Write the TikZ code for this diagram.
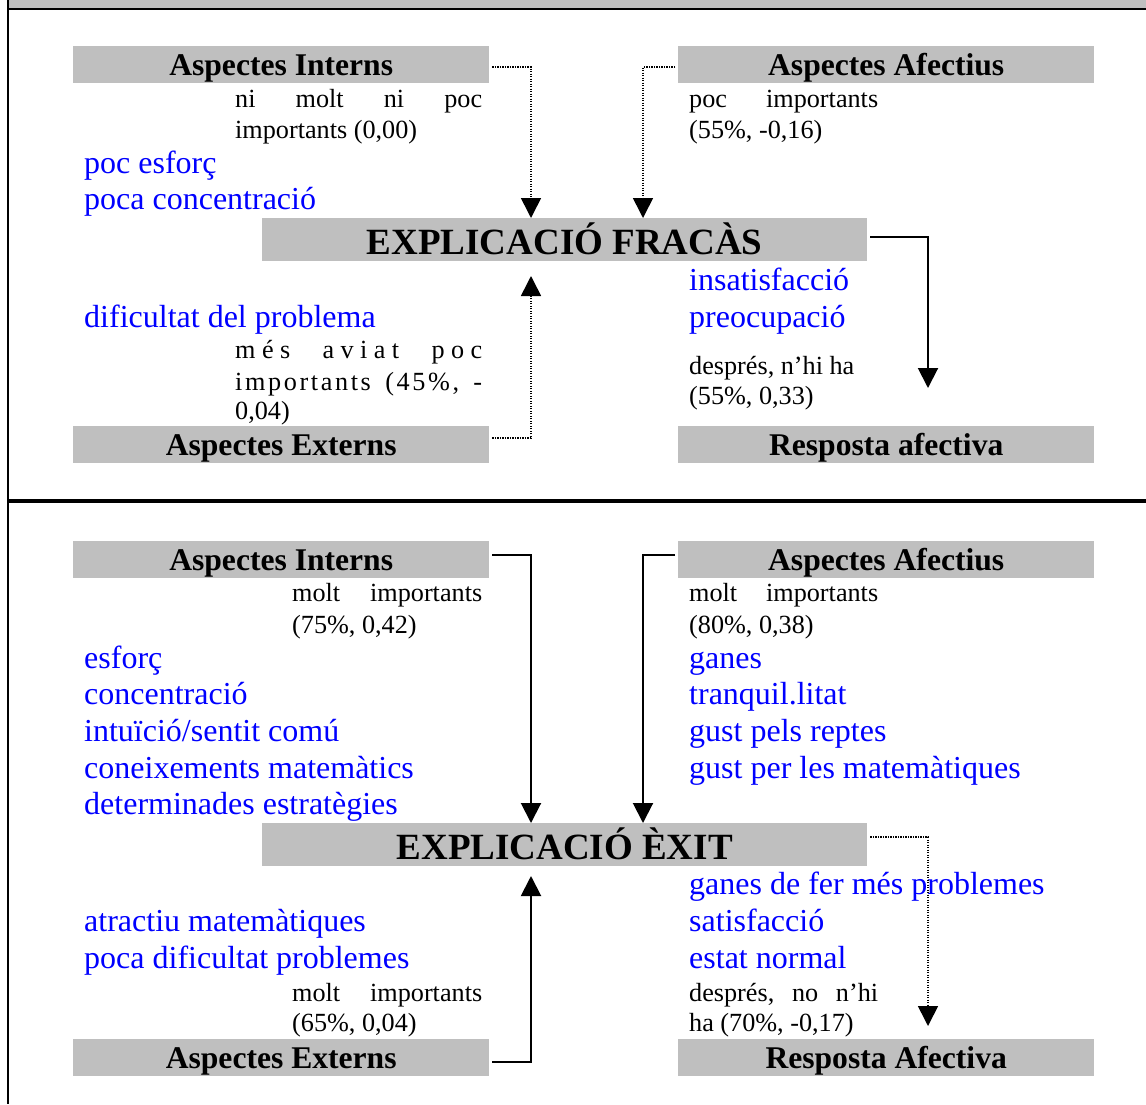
\documentclass[tikz,border=0pt]{standalone}
\usepackage{fontspec}
\setmainfont{Liberation Serif}
\usetikzlibrary{arrows.meta}
\definecolor{boxgray}{RGB}{191,191,191}
\definecolor{itemblue}{RGB}{0,0,255}

\tikzset{
  head/.style={fill=boxgray, inner sep=0pt, minimum width=416pt, minimum height=37pt,
    text height=29pt, text depth=8pt, font=\fontsize{31.6}{36}\selectfont\bfseries, anchor=north west},
  hub/.style={fill=boxgray, inner sep=0pt, minimum width=605pt, minimum height=43pt,
    text height=36pt, text depth=7pt, font=\fontsize{37}{42}\selectfont\bfseries, anchor=north west},
  item/.style={inner sep=0pt, anchor=base west, text=itemblue, font=\fontsize{32}{36.5}\selectfont},
  note/.style={inner sep=0pt, anchor=base west, font=\fontsize{26.2}{30}\selectfont},
  link/.style={line width=2pt, shorten <=3pt},
  dotlink/.style={line width=1.6pt, dash pattern=on 1.2pt off 1.3pt, shorten <=3pt},
  tip/.style={-{Triangle[width=20pt,length=20pt]}},
}

\begin{document}
\begin{tikzpicture}[x=1pt,y=-1pt]
\useasboundingbox (0,0) rectangle (1146,1104);

% frame: title strip, left rule, rules between panels
\fill[boxgray] (9,0) rectangle (1146,8);
\draw[line width=2.2pt] (8,9) -- (1146,9);
\draw[line width=2pt] (8,0) -- (8,1104);
\draw[line width=3.5pt] (8,501) -- (1146,501);

% ---------------- failure panel ----------------
\node[head] (intA)  at (73,46)   {Aspectes Interns};
\node[head] (afA)   at (678,46)  {Aspectes Afectius};
\node[hub]  (fracas) at (262,218) {EXPLICACIÓ FRACÀS};
\node[head] (extA)  at (73,426)  {Aspectes Externs};
\node[head] (respA) at (678,426) {Resposta afectiva};

\node[note] (nIntA1) at (235,107) {\hbox to 247pt{ni\hfill molt\hfill ni\hfill poc}};
\node[note] (nIntA2) at (235,138) {importants (0,00)};
\node[note] (nAfA1)  at (689,107) {\hbox to 189pt{poc\hfill importants}};
\node[note] (nAfA2)  at (689,138) {(55\%, -0,16)};

\node[item] (iA1) at (84,173) {poc esforç};
\node[item] (iA2) at (84,209) {poca concentració};
\node[item] (iA3) at (84,327) {dificultat del problema};
\node[item] (rA1) at (689,290) {insatisfacció};
\node[item] (rA2) at (689,327) {preocupació};

\node[note] (nExtA1) at (235,358) {\hbox to 247pt{m\hfil é\hfil s\ \hfil\hfil\hfil\hfil a\hfil v\hfil i\hfil a\hfil t\ \hfil\hfil\hfil\hfil p\hfil o\hfil c}};
\node[note] (nExtA2) at (235,390) {\hbox to 247pt{i\hfil m\hfil p\hfil o\hfil r\hfil t\hfil a\hfil n\hfil t\hfil s\ \hfil\hfil\hfil (\hfil 4\hfil 5\hfil \%\hfil ,\ \hfil\hfil\hfil -}};
\node[note] (nExtA3) at (235,419) {0,04)};
\node[note] (nRA1) at (689,374) {després, n’hi ha};
\node[note] (nRA2) at (689,404) {(55\%, 0,33)};

\coordinate (inA)     at (531,218);
\coordinate (afInA)   at (643,218);
\coordinate (respInA) at (928,388);
\coordinate (extInA)  at (531,276);
\draw[dotlink,tip] ([yshift=-2.5pt]intA.east) -| (inA);
\draw[dotlink,tip] ([yshift=-2.5pt]afA.west) -| (afInA);
\draw[link,tip] ([yshift=2.5pt]fracas.east) -| (respInA);
\draw[dotlink,tip] ([yshift=6.5pt]extA.east) -| (extInA);

% ---------------- success panel ----------------
\node[head] (intB)  at (73,541)   {Aspectes Interns};
\node[head] (afB)   at (678,541)  {Aspectes Afectius};
\node[hub]  (exit)  at (262,823)  {EXPLICACIÓ ÈXIT};
\node[head] (extB)  at (73,1039)  {Aspectes Externs};
\node[head] (respB) at (678,1039) {Resposta Afectiva};

\node[note] (nIntB1) at (292,601) {\hbox to 190pt{molt\hfill importants}};
\node[note] (nIntB2) at (292,633) {(75\%, 0,42)};
\node[note] (nAfB1)  at (689,601) {\hbox to 189pt{molt\hfill importants}};
\node[note] (nAfB2)  at (689,633) {(80\%, 0,38)};

\node[item] (iB1) at (84,668) {esforç};
\node[item] (iB2) at (84,704) {concentració};
\node[item] (iB3) at (84,741) {intuïció/sentit comú};
\node[item] (iB4) at (84,778) {coneixements matemàtics};
\node[item] (iB5) at (84,814) {determinades estratègies};
\node[item] (aB1) at (689,668) {ganes};
\node[item] (aB2) at (689,704) {tranquil.litat};
\node[item] (aB3) at (689,741) {gust pels reptes};
\node[item] (aB4) at (689,778) {gust per les matemàtiques};

\node[item] (eB1) at (84,931) {atractiu matemàtiques};
\node[item] (eB2) at (84,968) {poca dificultat problemes};
\node[item] (rB1) at (689,894) {ganes de fer més problemes};
\node[item] (rB2) at (689,931) {satisfacció};
\node[item] (rB3) at (689,968) {estat normal};

\node[note] (nExtB1) at (292,1001) {\hbox to 190pt{molt\hfill importants}};
\node[note] (nExtB2) at (292,1031) {(65\%, 0,04)};
\node[note] (nRB1)   at (689,1001) {\hbox to 189pt{després,\hfill no\hfill n’hi}};
\node[note] (nRB2)   at (689,1031) {ha (70\%, -0,17)};

\coordinate (inB)     at (531,823);
\coordinate (afInB)   at (643,823);
\coordinate (respInB) at (928,1026);
\coordinate (extInB)  at (531,876);
\draw[link,tip] ([yshift=4.5pt]intB.east) -| (inB);
\draw[link,tip] ([yshift=4.5pt]afB.west) -| (afInB);
\draw[dotlink,tip] ([yshift=7.5pt]exit.east) -| (respInB);
\draw[link,tip] ([yshift=-4.5pt]extB.east) -| (extInB);
\end{tikzpicture}
\end{document}
